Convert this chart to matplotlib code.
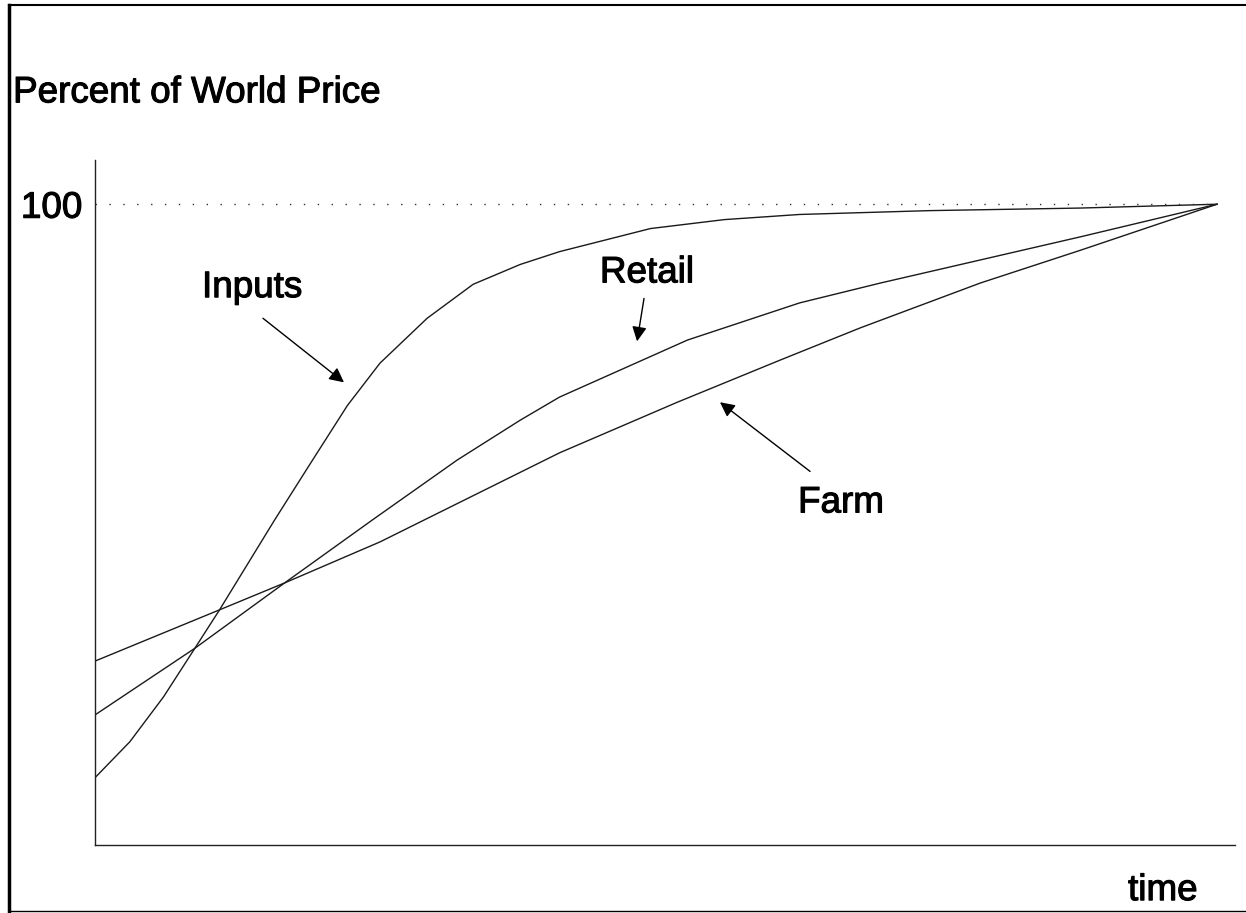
import matplotlib
matplotlib.use("Agg")
import matplotlib.pyplot as plt
from matplotlib.lines import Line2D
import matplotlib.patheffects as pe

plt.rcParams['font.family'] = ['Liberation Sans', 'DejaVu Sans']

# ---- data (time 0..100, percent of world price) ----
inputs_t = [0, 3.1, 6.1, 8.9, 11.1, 16.0, 19.4, 22.5, 25.4, 29.6, 33.7, 37.9, 41.4, 49.5, 56.1, 62.8, 74.4, 87.8, 100]
inputs_v = [10.5, 16.1, 23.1, 30.7, 36.7, 50.7, 60.1, 68.6, 75.2, 82.2, 87.5, 90.6, 92.6, 96.2, 97.6, 98.4, 99.0, 99.4, 100]

retail_t = [0, 8.9, 16.9, 24.7, 32.3, 37.9, 41.4, 52.8, 62.8, 70.0, 78.9, 87.8, 100]
retail_v = [20.3, 30.7, 40.9, 50.7, 60.1, 66.3, 69.9, 78.8, 84.6, 87.7, 91.3, 94.9, 100]

farm_t = [0, 11.1, 16.9, 25.4, 41.4, 51.9, 61.1, 68.2, 78.9, 87.8, 100]
farm_v = [28.7, 36.7, 40.9, 47.3, 61.2, 69.1, 75.7, 80.7, 87.7, 92.8, 100]

ref_level = 100
ytick_labels = ["100"]

W, H = 1246, 913
fig = plt.figure(figsize=(W / 100, H / 100), dpi=100)
ax = fig.add_axes([95 / W, 1 - 845 / H, (1235 - 95) / W, (845 - 160) / H])

line_kw = dict(color='#1a1a1a', lw=1.0)
ax.plot(inputs_t, inputs_v, **line_kw)
ax.plot(retail_t, retail_v, **line_kw)
ax.plot(farm_t, farm_v, **line_kw)
ax.plot([0, 100], [ref_level, ref_level], color='#333333', lw=1.0,
        linestyle=(0, (1, 9)))

ax.set_xlim(0, 101.6)
ax.set_ylim(0, 106.9)
for s in ['top', 'right']:
    ax.spines[s].set_visible(False)
for s in ['left', 'bottom']:
    ax.spines[s].set_color('#222222')
    ax.spines[s].set_linewidth(1.0)
ax.set_xticks([])
ax.set_yticks([ref_level])
ax.set_yticklabels(ytick_labels, fontsize=26.5)
ax.tick_params(axis='y', length=0, pad=9.5)
heavy = [pe.withStroke(linewidth=0.8, foreground='black')]
for lbl in ax.get_yticklabels():
    lbl.set_path_effects(heavy)

txt_kw = dict(fontsize=26.5, color='black', va='baseline', ha='left',
              annotation_clip=False, path_effects=heavy)
ax.annotate("Percent of World Price", xy=(-7.3, 115.9), **txt_kw)
ax.annotate("Inputs", xy=(9.54, 85.5), **txt_kw)
ax.annotate("Retail", xy=(45.0, 87.8), **txt_kw)
ax.annotate("Farm", xy=(62.66, 51.9), **txt_kw)
ax.annotate("time", xy=(92.07, -8.6), **txt_kw)

arr = dict(arrowstyle='-|>', color='black', lw=1.0, mutation_scale=22,
           shrinkA=0, shrinkB=0)
ax.annotate("", xy=(22.19, 72.2), xytext=(14.97, 82.2), arrowprops=arr)
ax.annotate("", xy=(48.31, 78.6), xytext=(48.93, 85.3), arrowprops=arr)
ax.annotate("", xy=(55.70, 69.1), xytext=(63.73, 58.3), arrowprops=arr)

# page frame
fig.add_artist(Line2D([9 / W, 9 / W], [1 - 5 / H, 0], transform=fig.transFigure,
                      color='black', lw=2.5))
fig.add_artist(Line2D([9 / W, 1], [1 - 5 / H, 1 - 5 / H], transform=fig.transFigure,
                      color='black', lw=1.5))
fig.add_artist(Line2D([9 / W, 1], [1 - 911 / H, 1 - 911 / H], transform=fig.transFigure,
                      color='black', lw=1.0))

fig.savefig("out.png", dpi=100, facecolor='white')
